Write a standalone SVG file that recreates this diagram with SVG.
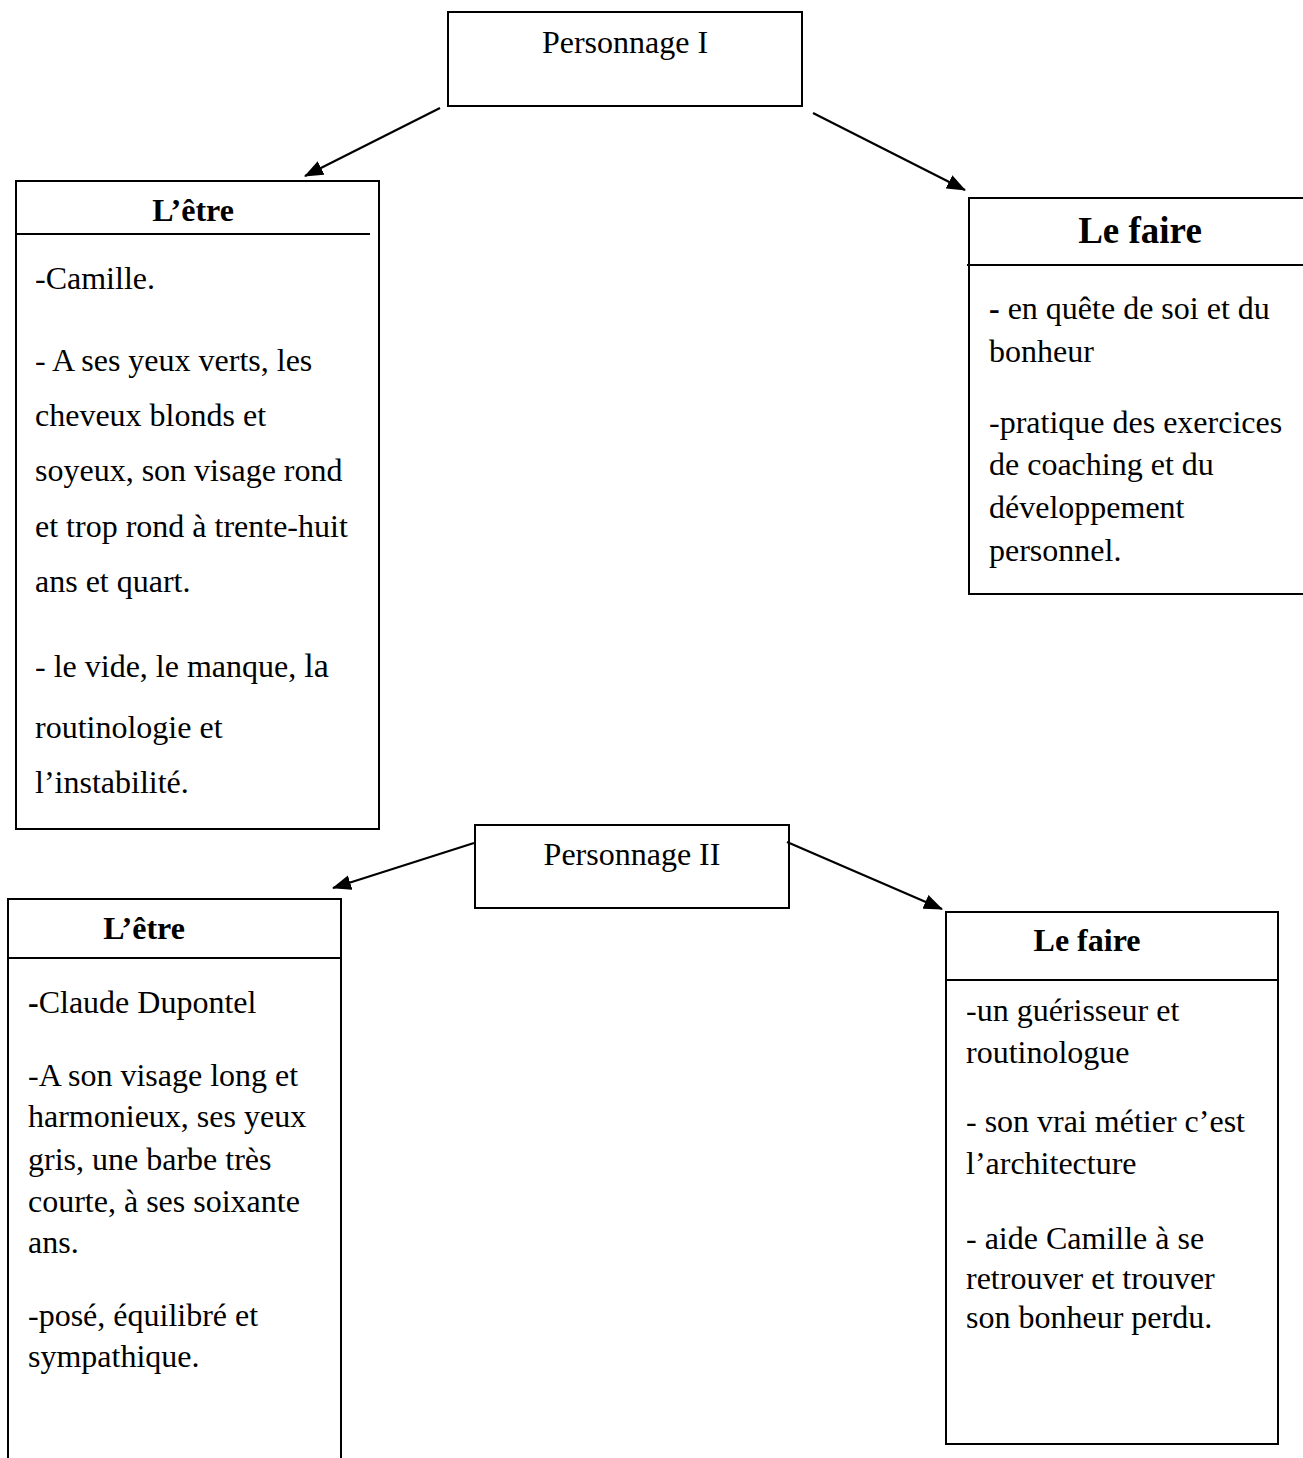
<svg xmlns="http://www.w3.org/2000/svg" width="1303" height="1458" viewBox="0 0 1303 1458">
<defs>
<marker id="arr" markerUnits="userSpaceOnUse" markerWidth="20" markerHeight="16" viewBox="0 0 20 16" refX="18" refY="8" orient="auto">
<path d="M0,0.5 L19,8 L0,15.5 Z" fill="#000"/>
</marker>
<style>
.box{fill:#fff;stroke:#000;stroke-width:2}
.ln{stroke:#000;stroke-width:2;fill:none}
.t{font-family:"Liberation Serif","Times New Roman",serif;font-size:32px;fill:#000}
.b{font-weight:bold}
.c{text-anchor:middle}
.con{stroke:#000;stroke-width:2.2;fill:none;marker-end:url(#arr)}
</style>
</defs>
<rect width="1303" height="1458" fill="#fff"/>

<g id="personnage1">
<rect class="box" x="448" y="12" width="354" height="94"/>
<text class="t c" x="625" y="53">Personnage I</text>
</g>

<g id="etre1">
<rect class="box" x="16" y="181" width="363" height="648"/>
<line class="ln" x1="16" y1="234" x2="370" y2="234"/>
<text class="t b c" x="193" y="221">L’être</text>
<text class="t" x="35" y="289">-Camille.</text>
<text class="t" x="35" y="371"> - A ses yeux verts, les</text>
<text class="t" x="35" y="426">cheveux blonds et</text>
<text class="t" x="35" y="481">soyeux, son visage rond</text>
<text class="t" x="35" y="537">et trop rond à trente-huit</text>
<text class="t" x="35" y="592">ans et quart.</text>
<text class="t" x="35" y="677">- le vide, le manque, <tspan font-size="34">la</tspan></text>
<text class="t" x="35" y="738">routinologie et</text>
<text class="t" x="35" y="793">l’instabilité.</text>
</g>

<g id="faire1">
<path class="ln" d="M1303,198 L969,198 L969,594 L1303,594"/>
<line class="ln" x1="967" y1="265" x2="1303" y2="265"/>
<text class="t b c" x="1140" y="243" style="font-size:37px">Le faire</text>
<text class="t" x="989" y="319"><tspan class="b">-</tspan> en quête de soi et du</text>
<text class="t" x="989" y="362">bonheur</text>
<text class="t" x="989" y="433">-pratique des exercices</text>
<text class="t" x="989" y="475">de coaching et du</text>
<text class="t" x="989" y="518">développement</text>
<text class="t" x="989" y="561">personnel.</text>
</g>

<g id="personnage2">
<rect class="box" x="475" y="825" width="314" height="83"/>
<text class="t c" x="632" y="865">Personnage II</text>
</g>

<g id="etre2">
<path class="ln" d="M8,1458 L8,899 L341,899 L341,1458"/>
<line class="ln" x1="8" y1="958" x2="342" y2="958"/>
<text class="t b c" x="144" y="939">L’être</text>
<text class="t" x="28" y="1013"><tspan class="b">-</tspan>Claude Dupontel</text>
<text class="t" x="28" y="1086">-A son visage long et</text>
<text class="t" x="28" y="1127">harmonieux, ses yeux</text>
<text class="t" x="28" y="1170">gris, une barbe très</text>
<text class="t" x="28" y="1212">courte, à ses soixante</text>
<text class="t" x="28" y="1253">ans.</text>
<text class="t" x="28" y="1326">-posé, équilibré et</text>
<text class="t" x="28" y="1367">sympathique.</text>
</g>

<g id="faire2">
<rect class="box" x="946" y="912" width="332" height="532"/>
<line class="ln" x1="946" y1="980" x2="1278" y2="980"/>
<text class="t b c" x="1087" y="951">Le faire</text>
<text class="t" x="966" y="1021">-un guérisseur et</text>
<text class="t" x="966" y="1063">routinologue</text>
<text class="t" x="966" y="1132">- son vrai métier c’est</text>
<text class="t" x="966" y="1174">l’architecture</text>
<text class="t" x="966" y="1249">- aide Camille à se</text>
<text class="t" x="966" y="1289">retrouver et trouver</text>
<text class="t" x="966" y="1328">son bonheur perdu.</text>
</g>

<g id="connectors">
<line class="con" x1="440" y1="108" x2="305" y2="176"/>
<line class="con" x1="813" y1="113" x2="965" y2="190"/>
<line class="con" x1="474" y1="843" x2="333" y2="888"/>
<line class="con" x1="787" y1="842" x2="942" y2="909"/>
</g>
</svg>
